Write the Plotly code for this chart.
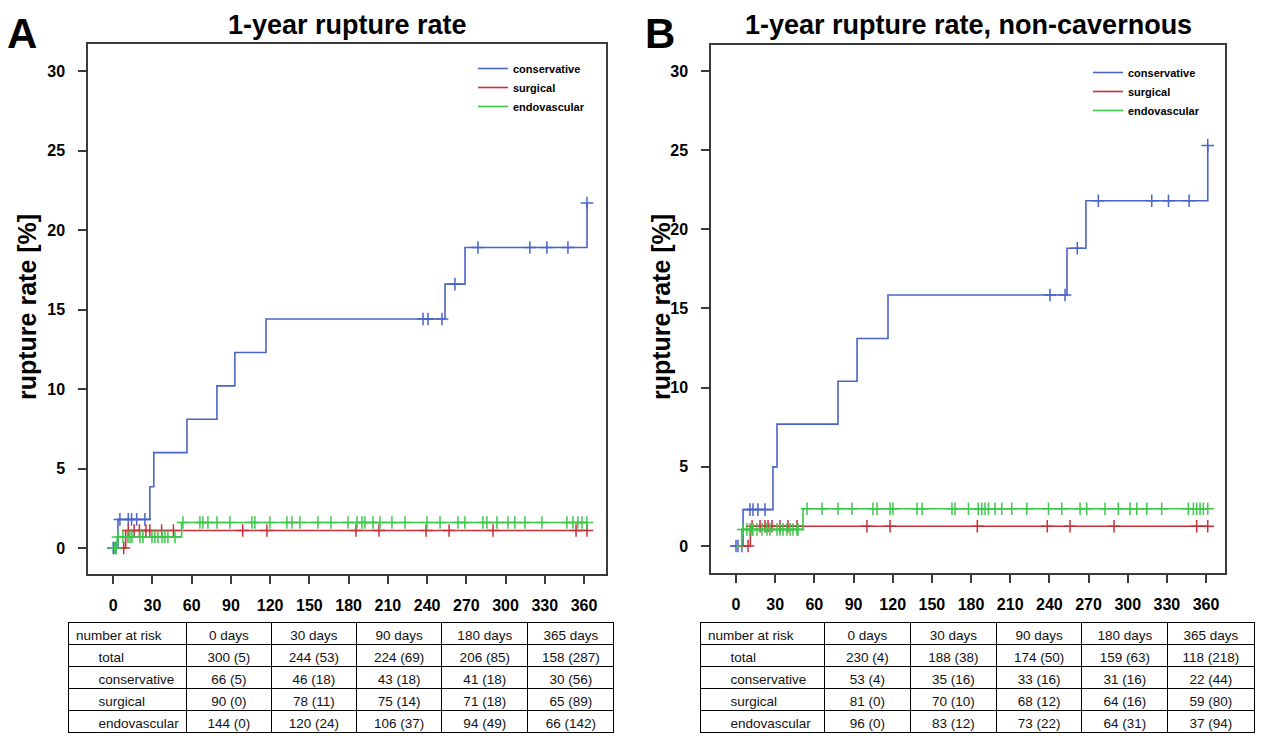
import plotly.graph_objects as go

# ---------------- Panel A data (days, rupture rate %) ----------------
A_cons_t = [0, 3.6, 28, 31, 56.4, 79.3, 93, 116.8, 253.7, 269, 362.3]
A_cons_r = [0, 1.8, 3.85, 6.0, 8.1, 10.2, 12.3, 14.4, 16.6, 18.9, 21.7]
A_cons_cens = [0, 2, 5.1, 11.5, 14, 17.9, 24.2, 236.9, 240.7, 251.4, 261.3,
               278.9, 318.6, 331.6, 347.7, 362.3]

A_surg_t = [0, 9.5, 362.3]
A_surg_r = [0, 1.1, 1.1]
A_surg_cens = [8, 11.5, 16, 20, 25, 28, 37, 46, 99, 117.5, 185.6, 203.2,
               239.2, 256.8, 290.4, 353.9, 362.3]

A_endo_t = [0, 3, 52.3, 362.2]
A_endo_r = [0, 0.7, 1.6, 1.6]
A_endo_cens = [1, 2, 3.6, 7.4, 11.2, 12.8, 14.3, 20.4, 22.7, 29.6, 31.9, 34.2,
               37.3, 39.5, 41.8, 47.2, 53.3, 66.3, 68.6, 72.4, 79.3, 89.2, 106,
               108.3, 119.8, 132.8, 136.6, 142.7, 156.5, 166.5, 179.5, 186.4,
               190.2, 192.5, 198.6, 204, 213.1, 223.1, 239.9, 249.9, 263.6,
               268.9, 282.7, 285.7, 293.4, 301.8, 307.1, 314.8, 327.8, 346.9,
               351.5, 355.3, 358.4, 362.2]

# ---------------- Panel B data ----------------
B_cons_t = [0, 5.4, 28.3, 31.4, 78.1, 92.7, 116.4, 253.5, 268, 361.3]
B_cons_r = [0, 2.3, 5.0, 7.7, 10.4, 13.1, 15.85, 18.8, 21.8, 25.3]
B_cons_cens = [0, 1.5, 4.5, 10.7, 13, 16.8, 22.2, 240.5, 252, 261.4, 277.5,
               318.4, 331.2, 347, 361.3]

B_surg_t = [0, 11, 361.3]
B_surg_r = [0, 1.25, 1.25]
B_surg_cens = [9.2, 12.3, 18.4, 22.2, 24.5, 27.6, 33.7, 39.8, 46.7, 100.3,
               118, 184.8, 238.4, 255.8, 289.5, 352.8, 361.3]

B_endo_t = [0, 4.4, 51.3, 361.3]
B_endo_r = [0, 1.05, 2.35, 2.35]
B_endo_cens = [5.4, 8.4, 10.7, 12.3, 13, 16.1, 19.9, 23.7, 26, 31.4, 33.7, 36,
               39, 41.4, 43.7, 46.7, 47.5, 54.4, 65.9, 78.1, 88.8, 104.9, 108,
               118, 120.2, 138.6, 142.5, 165.4, 167.7, 178, 185.5, 188.2, 190.7,
               193.3, 198.4, 203.5, 211.2, 222.7, 239.3, 249.5, 263.5, 268.6,
               282.6, 292.8, 301.8, 306.9, 314.6, 326, 346.4, 350.3, 352.8,
               355.4, 357.9, 361.3]

# ---------------- Number-at-risk tables ----------------
table_cols = ["number at risk", "0 days", "30 days", "90 days", "180 days", "365 days"]
table_rows = ["total", "conservative", "surgical", "endovascular"]

A_total = ["300 (5)", "244 (53)", "224 (69)", "206 (85)", "158 (287)"]
A_cons = ["66 (5)", "46 (18)", "43 (18)", "41 (18)", "30 (56)"]
A_surg = ["90 (0)", "78 (11)", "75 (14)", "71 (18)", "65 (89)"]
A_endo = ["144 (0)", "120 (24)", "106 (37)", "94 (49)", "66 (142)"]

B_total = ["230 (4)", "188 (38)", "174 (50)", "159 (63)", "118 (218)"]
B_cons = ["53 (4)", "35 (16)", "33 (16)", "31 (16)", "22 (44)"]
B_surg = ["81 (0)", "70 (10)", "68 (12)", "64 (16)", "59 (80)"]
B_endo = ["96 (0)", "83 (12)", "73 (22)", "64 (31)", "37 (94)"]

group_names = ["conservative", "surgical", "endovascular"]
group_colors = ["#4a64c8", "#c8303a", "#3cc84a"]

x_ticks = list(range(0, 361, 30))
y_ticks = list(range(0, 31, 5))

# page body has an 8px margin: figure is placed at (8, 8)
OFF = 8
W, H = 1267 - OFF, 742 - OFF
FONT = "Liberation Sans, Arial, sans-serif"


def step_value(times, rates, t):
    v = rates[0]
    for ti, ri in zip(times, rates):
        if ti <= t:
            v = ri
    return v


fig = go.Figure()

panels = [
    ("x", "y", "legend",
     [(A_cons_t, A_cons_r, A_cons_cens), (A_surg_t, A_surg_r, A_surg_cens),
      (A_endo_t, A_endo_r, A_endo_cens)]),
    ("x2", "y2", "legend2",
     [(B_cons_t, B_cons_r, B_cons_cens), (B_surg_t, B_surg_r, B_surg_cens),
      (B_endo_t, B_endo_r, B_endo_cens)]),
]

for xa, ya, leg, series in panels:
    for (t, r, cens), name, col in zip(series, group_names, group_colors):
        xs = list(t) + [max(cens)]
        ys = list(r) + [r[-1]]
        fig.add_trace(go.Scatter(
            x=xs, y=ys, mode="lines", line=dict(shape="hv", color=col, width=1.6),
            name=name, xaxis=xa, yaxis=ya, legend=leg, showlegend=True,
            hoverinfo="skip"))
        fig.add_trace(go.Scatter(
            x=cens, y=[step_value(t, r, c) for c in cens], mode="markers",
            marker=dict(symbol="cross-thin", size=9,
                        line=dict(color=col, width=1.5)),
            xaxis=xa, yaxis=ya, showlegend=False, hoverinfo="skip"))


def px_x(p):
    return (p - OFF) / W


def px_y(p):
    return 1 - (p - OFF) / H


axis_common = dict(
    showline=True, mirror=True, linecolor="#3a3a3a", linewidth=1.5,
    showgrid=False, zeroline=False, ticks="outside", ticklen=8, tickwidth=1.5,
    tickcolor="#3a3a3a",
    tickfont=dict(family=FONT, size=16, color="black", weight="bold"),
)

fig.update_layout(
    width=W, height=H, margin=dict(l=0, r=0, t=0, b=0),
    paper_bgcolor="white", plot_bgcolor="white",
    xaxis=dict(domain=[px_x(88), px_x(606)], range=[-19.3, 376.8],
               tickvals=x_ticks, anchor="y", ticklabelstandoff=8, **axis_common),
    yaxis=dict(domain=[px_y(574), px_y(44)], range=[-1.635, 31.7],
               tickvals=y_ticks, anchor="x", ticklabelstandoff=10, **axis_common),
    xaxis2=dict(domain=[px_x(711), px_x(1225)], range=[-19.15, 374.5],
                tickvals=x_ticks, anchor="y2", ticklabelstandoff=8, **axis_common),
    yaxis2=dict(domain=[px_y(573), px_y(45)], range=[-1.705, 31.64],
                tickvals=y_ticks, anchor="x2", ticklabelstandoff=10, **axis_common),
    legend=dict(x=px_x(473), y=px_y(54), xanchor="left", yanchor="top",
                bgcolor="rgba(0,0,0,0)",
                font=dict(family=FONT, size=11, color="black", weight="bold")),
    legend2=dict(x=px_x(1088), y=px_y(58), xanchor="left", yanchor="top",
                 bgcolor="rgba(0,0,0,0)",
                 font=dict(family=FONT, size=11, color="black", weight="bold")),
    showlegend=True,
)

# Y-axis titles
for x in (27, 661):
    fig.add_annotation(text="rupture rate [%]", x=px_x(x), y=px_y(307),
                       xref="paper", yref="paper", showarrow=False, textangle=-90,
                       xanchor="center", yanchor="middle",
                       font=dict(family=FONT, size=25, color="black", weight="bold"))

# Panel titles and letters, anchored at the top edge so they stay inside
tops = [
    ("1-year rupture rate", 347, 27),
    ("1-year rupture rate, non-cavernous", 968, 27),
    ("A", 22, 42),
    ("B", 660, 42),
]
for txt, x, size in tops:
    fig.add_annotation(text=txt, x=px_x(x), y=1, xref="paper", yref="paper",
                       showarrow=False, xanchor="center", yanchor="top",
                       font=dict(family=FONT, size=size, color="black", weight="bold"))

# Tables
indent = "\u00a0" * 6


def make_table(rows_vals, x0, x1, y0, y1, widths):
    first = [indent + r for r in table_rows]
    cols = [first] + [[rv[i] for rv in rows_vals] for i in range(5)]
    return go.Table(
        domain=dict(x=[px_x(x0), px_x(x1)], y=[px_y(y1), px_y(y0)]),
        columnwidth=widths,
        header=dict(values=table_cols, height=22, fill_color="white",
                    line=dict(color="black", width=1),
                    align=["left"] + ["center"] * 5,
                    font=dict(family=FONT, size=13.5, color="#111")),
        cells=dict(values=cols, height=22, fill_color="white",
                   line=dict(color="black", width=1),
                   align=["left"] + ["center"] * 5,
                   font=dict(family=FONT, size=13.5, color="#111")),
    )


fig.add_trace(make_table([A_total, A_cons, A_surg, A_endo], 68, 614, 622, 734,
                         [118, 85, 85, 85, 86, 86]))
fig.add_trace(make_table([B_total, B_cons, B_surg, B_endo], 700, 1254, 622, 734,
                         [124, 86, 86, 85, 86, 86]))

fig.write_html("out.html")
